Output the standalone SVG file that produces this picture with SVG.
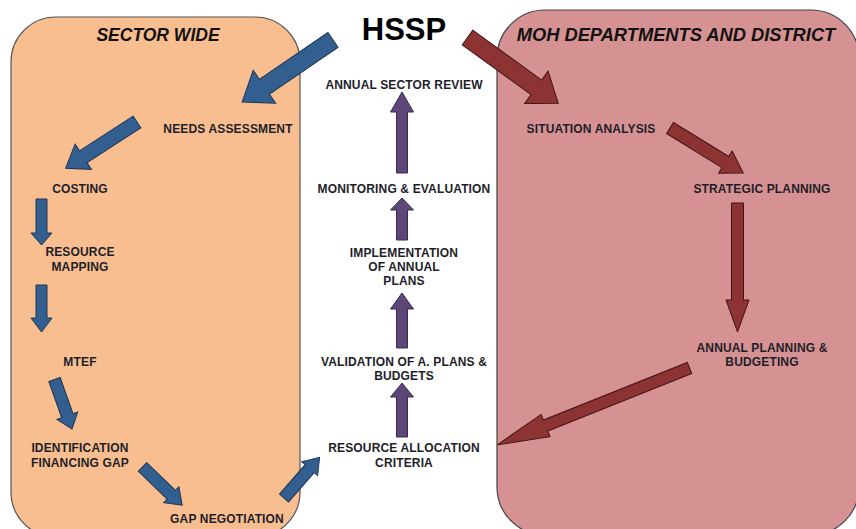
<svg xmlns="http://www.w3.org/2000/svg" width="856" height="529" viewBox="0 0 856 529">
<style>
.panel-l{fill:#F8BE8F;stroke:#555;stroke-width:1.2}
.panel-r{fill:#D69292;stroke:#444;stroke-width:1.2}
.lbl{font-family:"Liberation Sans",Arial,sans-serif;font-weight:bold;font-size:12px;letter-spacing:0.15px;fill:#1e1e2a;text-anchor:middle}
.ttl{font-family:"Liberation Sans",Arial,sans-serif;font-weight:bold;font-style:italic;font-size:17.5px;fill:#111;text-anchor:middle}
.hssp{font-family:"Liberation Sans",Arial,sans-serif;font-weight:bold;font-size:31px;fill:#000;text-anchor:middle}
.blue{fill:#335E90;stroke:#1d3654;stroke-width:1}
.red{fill:#8E3334;stroke:#3f1515;stroke-width:1}
.purple{fill:#5D4779;stroke:#3a2a50;stroke-width:1}
</style>
<rect width="856" height="529" fill="#fff"/>
<g id="sector-wide">
<rect class="panel-l" x="11" y="17" width="289" height="520" rx="45"/>
<text class="ttl" x="158" y="41">SECTOR WIDE</text>
</g>
<g id="moh-departments">
<rect class="panel-r" x="497" y="10" width="362" height="525" rx="48"/>
<text class="ttl" x="676" y="41" style="font-size:18.3px">MOH DEPARTMENTS AND DISTRICT</text>
</g>
<g id="hssp"><text class="hssp" x="404" y="40">HSSP</text></g>
<g id="needs-assessment"><text class="lbl" x="228" y="133">NEEDS ASSESSMENT</text></g>
<g id="costing"><text class="lbl" x="80" y="193">COSTING</text></g>
<g id="resource-mapping"><text class="lbl" x="80" y="256">RESOURCE<tspan x="80" y="271">MAPPING</tspan></text></g>
<g id="mtef"><text class="lbl" x="80" y="366">MTEF</text></g>
<g id="identification-gap"><text class="lbl" x="80" y="452">IDENTIFICATION<tspan x="80" y="467">FINANCING GAP</tspan></text></g>
<g id="gap-negotiation"><text class="lbl" x="227" y="523">GAP NEGOTIATION</text></g>
<g id="annual-sector-review"><text class="lbl" x="404" y="89">ANNUAL SECTOR REVIEW</text></g>
<g id="monitoring-evaluation"><text class="lbl" x="404" y="193">MONITORING &amp; EVALUATION</text></g>
<g id="implementation"><text class="lbl" x="404" y="257">IMPLEMENTATION<tspan x="404" y="271">OF ANNUAL</tspan><tspan x="404" y="285">PLANS</tspan></text></g>
<g id="validation"><text class="lbl" x="404" y="366">VALIDATION OF A. PLANS &amp;<tspan x="404" y="380">BUDGETS</tspan></text></g>
<g id="resource-allocation"><text class="lbl" x="404" y="452">RESOURCE ALLOCATION<tspan x="404" y="467">CRITERIA</tspan></text></g>
<g id="situation-analysis"><text class="lbl" x="591" y="133">SITUATION ANALYSIS</text></g>
<g id="strategic-planning"><text class="lbl" x="762" y="193">STRATEGIC PLANNING</text></g>
<g id="annual-planning"><text class="lbl" x="762" y="352">ANNUAL PLANNING &amp;<tspan x="762" y="366">BUDGETING</tspan></text></g>
<g id="connectors">
<polygon class="blue" transform="translate(333,40) rotate(145.7)" points="0,-9 83,-9 83,-20 110,0 83,20 83,9 0,9"/>
<polygon class="blue" transform="translate(137,122) rotate(147.1)" points="0,-7 64,-7 64,-15 85,0 64,15 64,7 0,7"/>
<polygon class="blue" transform="translate(41.5,199) rotate(90)" points="0,-5.5 34,-5.5 34,-10.5 46,0 34,10.5 34,5.5 0,5.5"/>
<polygon class="blue" transform="translate(41.5,285) rotate(90)" points="0,-5.5 33,-5.5 33,-10.5 47,0 33,10.5 33,5.5 0,5.5"/>
<polygon class="blue" transform="translate(54.5,379.5) rotate(70.5)" points="0,-6 38.5,-6 38.5,-11 52.5,0 38.5,11 38.5,6 0,6"/>
<polygon class="blue" transform="translate(142.5,467) rotate(43.9)" points="0,-6 40,-6 40,-11 55,0 40,11 40,6 0,6"/>
<polygon class="blue" transform="translate(284,498) rotate(-48.8)" points="0,-6 39,-6 39,-10.5 54,0 39,10.5 39,6 0,6"/>
<polygon class="red" transform="translate(467.5,37.5) rotate(35.9)" points="0,-9 85,-9 85,-20 112,0 85,20 85,9 0,9"/>
<polygon class="red" transform="translate(670,128) rotate(31.6)" points="0,-6.5 65,-6.5 65,-13 86,0 65,13 65,6.5 0,6.5"/>
<polygon class="red" transform="translate(737.5,203) rotate(90)" points="0,-6 97,-6 97,-11.5 129,0 97,11.5 97,6 0,6"/>
<polygon class="red" transform="translate(689.5,368) rotate(158.2)" points="0,-6 155,-6 155,-12 207,0 155,12 155,6 0,6"/>
<polygon class="purple" transform="translate(402,173) rotate(-90)" points="0,-5.5 61,-5.5 61,-11.5 81,0 61,11.5 61,5.5 0,5.5"/>
<polygon class="purple" transform="translate(402,240) rotate(-90)" points="0,-5.5 30,-5.5 30,-11.5 42,0 30,11.5 30,5.5 0,5.5"/>
<polygon class="purple" transform="translate(402,348) rotate(-90)" points="0,-5.5 39,-5.5 39,-11.5 55,0 39,11.5 39,5.5 0,5.5"/>
<polygon class="purple" transform="translate(402,437) rotate(-90)" points="0,-5.5 40,-5.5 40,-11.5 54,0 40,11.5 40,5.5 0,5.5"/>
</g>
</svg>
